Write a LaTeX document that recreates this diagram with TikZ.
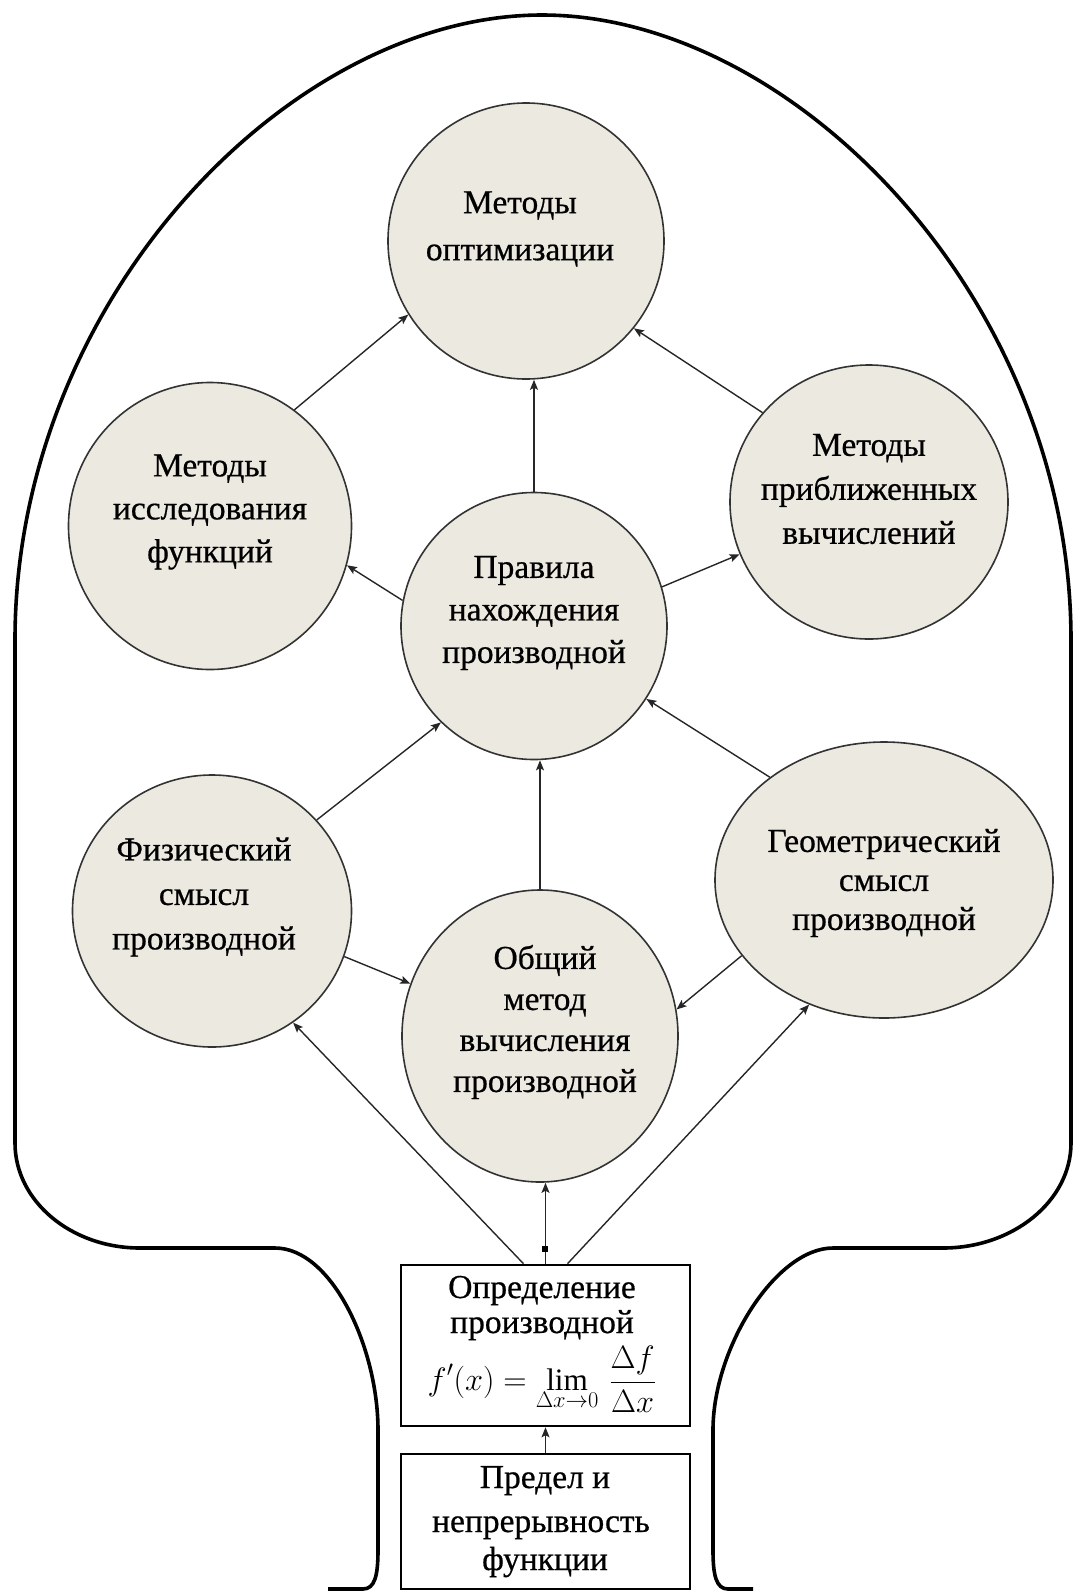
\documentclass[tikz,border=0pt]{standalone}
\usepackage{graphicx}
\usepackage{fontspec}
\setmainfont{Liberation Serif}
\newfontfamily\lblfont{Liberation Serif}[FakeBold=0.6]
\usetikzlibrary{shapes.geometric,arrows.meta}
\definecolor{beige}{RGB}{236,234,224}
\begin{document}
\begin{tikzpicture}[x=1pt,y=-1pt,
  bub/.style={ellipse, draw=black!80, line width=1.6pt, fill=beige, inner sep=0pt},
  lbl/.style={align=center, inner sep=0pt, font=\lblfont\fontsize{33.5}{#1}\selectfont},
  lbl/.default=43,
  arr/.style={line width=1.4pt, draw=black!85, -{Stealth[length=10pt,width=8pt,inset=2pt]}},
  boxed/.style={draw, line width=2.6pt, inner sep=0pt},
  outline/.style={line width=3.6pt, line join=round}
]
\useasboundingbox (0,0) rectangle (1073,1591);
% outline
\draw[outline] (328,1589) -- (363,1589) .. controls (375,1589) and (378,1575) .. (378,1550)
  -- (378,1430) .. controls (378,1348) and (332,1248) .. (275,1248) -- (140,1248)
  .. controls (71,1248) and (15,1201) .. (15,1143) -- (15,640)
  .. controls (15,300) and (290,15) .. (542,15)
  .. controls (794,15) and (1071,300) .. (1071,640) -- (1071,1143)
  .. controls (1071,1201) and (1013,1248) .. (943,1248) -- (833,1248)
  .. controls (776,1248) and (713,1348) .. (713,1430) -- (713,1550)
  .. controls (713,1575) and (716,1589) .. (728,1589) -- (753,1589);
% bubbles
\node[bub, minimum width=276pt, minimum height=276pt] (opt) at (526,241) {};
\node[bub, minimum width=283pt, minimum height=287pt] (iss) at (210,526) {};
\node[bub, minimum width=278pt, minimum height=274pt] (appr) at (869,502) {};
\node[bub, minimum width=266pt, minimum height=267pt] (prav) at (534,626) {};
\node[bub, minimum width=279pt, minimum height=272pt] (phys) at (212,911) {};
\node[bub, minimum width=338pt, minimum height=276pt] (geo) at (884,880) {};
\node[bub, minimum width=276pt, minimum height=292pt] (gen) at (540,1036) {};
% boxes
\node[boxed, minimum width=289pt, minimum height=161pt] (def) at (545.5,1345.5) {};
\node[boxed, minimum width=289pt, minimum height=135pt] (lim) at (545.5,1521.5) {};
% labels
\node[lbl=47] (optT) at (520,229) {Методы\\оптимизации};
\node[lbl] (issT) at (210,512) {Методы\\исследования\\функций};
\node[lbl=44] (apprT) at (869,489) {Методы\\приближенных\\вычислений};
\node[lbl=42.5] (pravT) at (534,613) {Правила\\нахождения\\производной};
\node[lbl=44.5] (physT) at (204,897) {Физический\\смысл\\производной};
\node[lbl=39] (geoT) at (884,883) {Геометрический\\смысл\\производной};
\node[lbl=41] (genT) at (545,1022) {Общий\\метод\\вычисления\\производной};
\node[lbl, anchor=base] (defT1) at (542,1298) {Определение};
\node[lbl, anchor=base] (defT2) at (542,1333) {производной};
\node[inner sep=0pt, font=\fontsize{24}{30}\selectfont, anchor=base] (defT3) at (542,1390)
  {\scalebox{1.3}{$\displaystyle f'(x)=\lim_{\Delta x\to 0}\,\frac{\Delta f}{\Delta x}$}};
\node[lbl=42, anchor=base] (limT1) at (545,1488) {Предел и};
\node[lbl, anchor=base] (limT2) at (541,1532) {непрерывность};
\node[lbl, anchor=base] (limT3) at (545,1570) {функции};
% arrows
\draw[arr] (prav.north) -- (prav.north |- opt.south);
\draw[arr] (iss.54) -- (opt.212);
\draw[arr] (appr.140) -- (opt.321);
\draw[arr] (prav.169) -- (iss.344);
\draw[arr] (prav.17) -- (appr.202);
\draw[arr] (phys.41) -- (prav.226);
\draw[arr] (geo.138) -- (prav.327);
\draw[arr] (gen.north) -- (gen.north |- prav.south);
\draw[arr] (phys.341) -- (gen.158);
\draw[arr] (geo.208) -- (gen.11);
\draw[arr] ([xshift=-22pt]def.north) -- (phys.306);
\draw[arr] ([xshift=22pt]def.north) -- (geo.239);
\draw[arr] (def.north) -- (def.north |- gen.south);
\draw[arr] (lim.north) -- (def.south);
\fill (542,1246) rectangle (548,1252);
\end{tikzpicture}
\end{document}
